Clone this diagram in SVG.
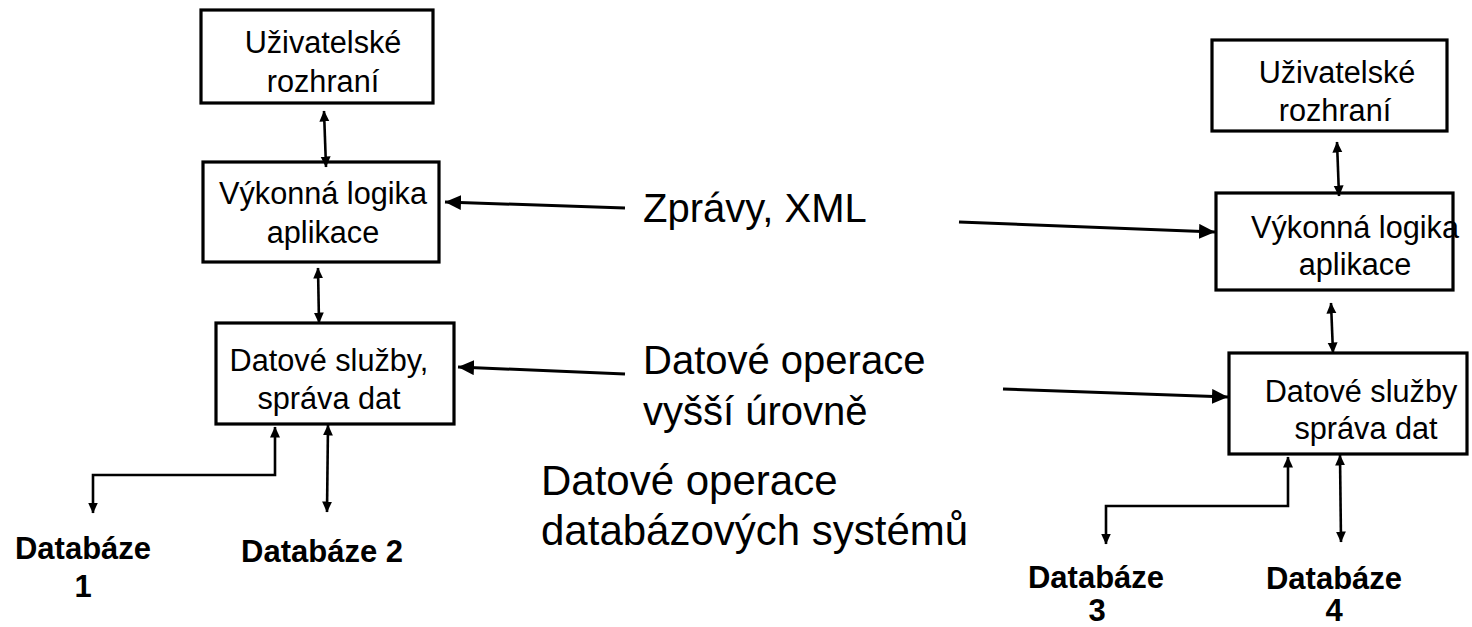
<svg xmlns="http://www.w3.org/2000/svg" width="1472" height="627" viewBox="0 0 1472 627">
<style>
.box{fill:#fff;stroke:#000;stroke-width:3.2}
.bt{font-family:"Liberation Sans",Arial,sans-serif;font-size:30.67px;fill:#000;text-anchor:middle}
.big{font-family:"Liberation Sans",Arial,sans-serif;font-size:40px;fill:#000}
.big2{font-family:"Liberation Sans",Arial,sans-serif;font-size:42px;fill:#000}
.db{font-family:"Liberation Sans",Arial,sans-serif;font-size:31px;font-weight:bold;fill:#000;text-anchor:middle}
.ah{fill:none;stroke:#000;stroke-width:3}
.av{fill:none;stroke:#000;stroke-width:2.6}
</style>
<defs>
<marker id="mh" markerUnits="userSpaceOnUse" markerWidth="18" markerHeight="16" refX="16" refY="7.5" orient="auto-start-reverse"><path d="M0,0 L16,7.5 L0,15 z" fill="#000"/></marker>
<marker id="mv" markerUnits="userSpaceOnUse" markerWidth="12" markerHeight="12" refX="10.5" refY="5" orient="auto-start-reverse"><path d="M0,0 L11,5 L0,10 z" fill="#000"/></marker>
</defs>
<rect width="1472" height="627" fill="#fff"/>
<g id="ui-left"><rect class="box" x="201" y="10" width="232" height="93"/><text class="bt"><tspan x="323" y="53">Uživatelské</tspan><tspan x="323" y="92">rozhraní</tspan></text></g>
<g id="logic-left"><rect class="box" x="203" y="162" width="236" height="100"/><text class="bt"><tspan x="323" y="204">Výkonná logika</tspan><tspan x="323" y="243">aplikace</tspan></text></g>
<g id="data-left"><rect class="box" x="216" y="323" width="238" height="101"/><text class="bt"><tspan x="329" y="371">Datové služby,</tspan><tspan x="329" y="409">správa dat</tspan></text></g>
<g id="db1"><text class="db"><tspan x="83" y="559">Databáze</tspan><tspan x="83" y="597">1</tspan></text></g>
<g id="db2"><text class="db" x="322" y="562">Databáze 2</text></g>
<g id="ui-right"><rect class="box" x="1212" y="40" width="235" height="91"/><text class="bt"><tspan x="1337" y="83">Uživatelské</tspan><tspan x="1335" y="121">rozhraní</tspan></text></g>
<g id="logic-right"><rect class="box" x="1216" y="193" width="237" height="97"/><text class="bt"><tspan x="1355" y="238">Výkonná logika</tspan><tspan x="1355" y="275">aplikace</tspan></text></g>
<g id="data-right"><rect class="box" x="1229" y="353" width="238" height="101"/><text class="bt"><tspan x="1361" y="402">Datové služby</tspan><tspan x="1366" y="439">správa dat</tspan></text></g>
<g id="db3"><text class="db"><tspan x="1096" y="588">Databáze</tspan><tspan x="1097" y="621">3</tspan></text></g>
<g id="db4"><text class="db"><tspan x="1334" y="589">Databáze</tspan><tspan x="1334" y="621">4</tspan></text></g>
<g id="labels">
<text class="big" x="643" y="222">Zprávy, XML</text>
<text class="big"><tspan x="643" y="374">Datové operace</tspan><tspan x="643" y="425">vyšší úrovně</tspan></text>
<text class="big2"><tspan x="541" y="495">Datové operace</tspan><tspan x="541" y="545">databázových systémů</tspan></text>
</g>
<g id="connectors">
<path class="ah" d="M625,208 L445,202" marker-end="url(#mh)"/>
<path class="ah" d="M959,222 L1215,232" marker-end="url(#mh)"/>
<path class="ah" d="M625,374 L458,367" marker-end="url(#mh)"/>
<path class="ah" d="M1003,389 L1228,397" marker-end="url(#mh)"/>
<path class="av" d="M324,111 L326,167" marker-start="url(#mv)" marker-end="url(#mv)"/>
<path class="av" d="M318,268 L319,323" marker-start="url(#mv)" marker-end="url(#mv)"/>
<path class="av" d="M275,427 V475 H93 V513" marker-start="url(#mv)" marker-end="url(#mv)"/>
<path class="av" d="M328,425 L327,512" marker-start="url(#mv)" marker-end="url(#mv)"/>
<path class="av" d="M1337,142 L1339,196" marker-start="url(#mv)" marker-end="url(#mv)"/>
<path class="av" d="M1331,303 L1333,353" marker-start="url(#mv)" marker-end="url(#mv)"/>
<path class="av" d="M1288,457 V506 H1106 V544" marker-start="url(#mv)" marker-end="url(#mv)"/>
<path class="av" d="M1340,455 L1341,542" marker-start="url(#mv)" marker-end="url(#mv)"/>
</g>
</svg>
